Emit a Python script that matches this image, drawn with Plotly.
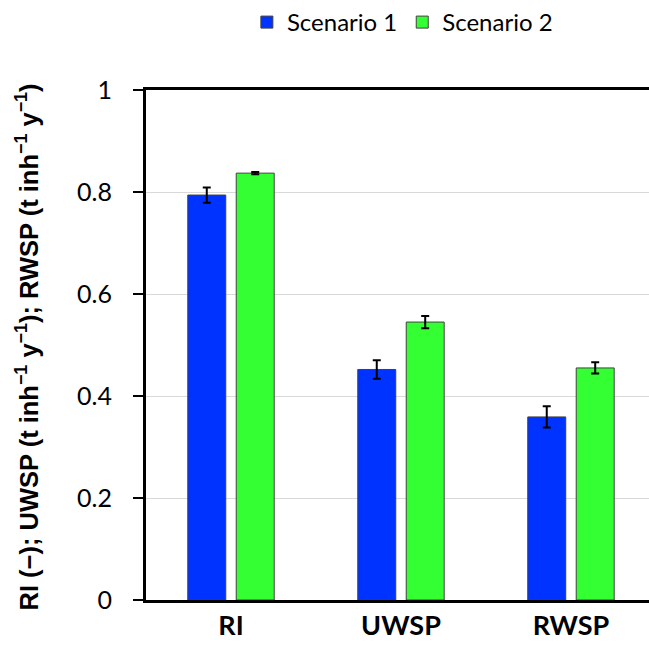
import plotly.graph_objects as go

categories = ["RI", "UWSP", "RWSP"]
scenario1 = [0.794, 0.452, 0.359]
scenario1_err = [0.015, 0.018, 0.021]
scenario2 = [0.837, 0.545, 0.455]
scenario2_err = [0.002, 0.012, 0.011]
y_ticks = [0, 0.2, 0.4, 0.6, 0.8, 1]
y_tick_labels = ["0", "0.2", "0.4", "0.6", "0.8", "1"]
y_title = "RI (\u2212); UWSP (t inh<sup>\u22121</sup> y<sup>\u22121</sup>); RWSP (t inh<sup>\u22121</sup> y<sup>\u22121</sup>)"

FONT = "Lato, Open Sans, sans-serif"
TITLE_FONT = "Liberation Sans, Arial, sans-serif"

fig = go.Figure()
fig.add_trace(go.Bar(
    name="Scenario 1", x=categories, y=scenario1,
    marker=dict(color="#0033FF", line=dict(color="#404040", width=1)),
    error_y=dict(type="data", array=scenario1_err, color="black", thickness=2, width=4),
))
fig.add_trace(go.Bar(
    name="Scenario 2", x=categories, y=scenario2,
    marker=dict(color="#33FF33", line=dict(color="#404040", width=1)),
    error_y=dict(type="data", array=scenario2_err, color="black", thickness=2, width=4),
))

fig.update_layout(
    width=649, height=646, autosize=False,
    margin=dict(l=146, r=0, t=90, b=46, autoexpand=False),
    plot_bgcolor="white", paper_bgcolor="white",
    barmode="group", bargap=0.43, bargroupgap=0.216,
    font=dict(family=FONT, color="black"),
    legend=dict(orientation="h", xref="container", yref="container",
                x=0.62, y=1.0, xanchor="center", yanchor="top",
                font=dict(size=24), itemwidth=30, traceorder="normal"),
    xaxis=dict(range=[-0.5, 2.459], showline=True, linecolor="black", linewidth=3,
               mirror=True, ticks="", tickfont=dict(size=27, family=FONT, weight="bold"),
               showgrid=False),
    yaxis=dict(range=[0, 1], tickvals=y_ticks, ticktext=y_tick_labels,
               showline=True, linecolor="black", linewidth=3, mirror=False,
               ticks="outside", ticklen=10, tickwidth=2, tickcolor="black",
               ticklabelposition="outside", ticklabelstandoff=16,
               tickfont=dict(size=25), showgrid=True, gridcolor="#d9d9d9", gridwidth=1,
               zeroline=False),
    annotations=[dict(text=y_title, textangle=-90, xref="paper", yref="paper",
                      x=-0.2366, y=0.497, xanchor="center", yanchor="middle",
                      showarrow=False,
                      font=dict(size=25.5, family=TITLE_FONT, weight="bold", color="black"))],
)

fig.write_html("out.html", config={"displayModeBar": False})

with open("out.html", "r", encoding="utf-8") as f:
    html = f.read()
html = html.replace(
    "<head>",
    "<head><style>html,body{margin:0;padding:0;overflow:hidden;scrollbar-width:none;}"
    "::-webkit-scrollbar{display:none;}</style>", 1)
with open("out.html", "w", encoding="utf-8") as f:
    f.write(html)
